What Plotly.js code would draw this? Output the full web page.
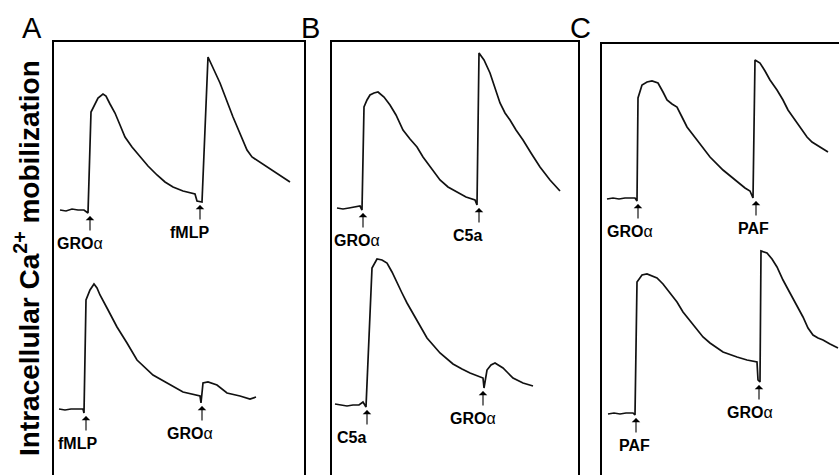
<!DOCTYPE html>
<html><head><meta charset="utf-8">
<script src="https://cdn.plot.ly/plotly-3.0.1.min.js"></script>
<style>html,body{margin:0;padding:0;background:#fff}#chart{width:839px;height:475px}</style>
</head><body><div id="chart"></div>
<script>
// ---- Data (time in s, fluorescence in arbitrary units) ----
// Panel A
const aTopT = [6,12,18,24,30,34,37,40,44,49,52,56,61,66,71,78,86,94,103,111,119,129,141,143,148,154,160,166,179,193,198,213,226,236];
const aTopF = [265,264,266,265,265,262,363,369,377,381,379,371,362,350,338,328,318,309,300,293,288,284,281,274,273,418,405,392,358,325,318,308,300,293];
const aBotT = [5,11,17,23,29,30,32,36,40,43,46,53,63,73,83,99,113,129,146,147,149,154,163,173,186,196,202];
const aBotF = [66,65,66,66,66,62,175,185,191,187,180,167,148,132,115,100,92,83,79,72,92,93,90,82,79,76,78];
const aStimLabel = ['GROα','fMLP','fMLP','GROα'];
const aStimT = [36,146,32,148];
const aStimRow = ['top','top','bottom','bottom'];
// Panel B
const bTopT = [5,11,17,23,28,30,32,35,38,42,46,52,58,64,71,78,85,91,98,108,116,125,134,143,145,147,152,158,163,168,173,178,184,191,199,208,218,228];
const bTopF = [267,266,267,268,269,265,368,375,380,382,383,378,370,360,345,336,328,318,308,295,288,283,278,275,270,422,415,402,388,372,362,355,345,335,322,308,295,284];
const bBotT = [3,9,15,21,27,31,34,40,45,50,55,60,65,70,75,85,95,108,121,130,138,151,152,155,159,163,171,176,181,191,201];
const bBotF = [71,70,69,70,70,73,68,207,216,215,212,203,192,182,172,155,137,122,111,106,102,97,87,105,110,112,107,102,97,92,89];
const bStimLabel = ['GROα','C5a','C5a','GROα'];
const bStimT = [31,147,35,151];
const bStimRow = ['top','top','bottom','bottom'];
// Panel C
const cTopT = [5,11,17,23,29,33,35,36,40,45,50,56,61,65,70,75,80,85,95,108,121,135,143,148,151,153,158,163,168,175,181,186,191,198,205,210,215,220,226];
const cTopF = [276,277,276,277,277,277,274,377,390,393,394,392,383,375,371,368,358,348,335,318,305,293,287,284,277,415,412,404,395,385,375,365,358,347,338,333,330,327,323];
const cBotT = [6,12,18,24,31,33,35,40,45,50,55,61,68,75,81,88,95,101,108,121,135,145,155,156,158,159,165,170,175,181,188,195,201,206,211,216,221,228,236];
const cBotF = [61,62,61,62,62,60,193,200,201,199,197,191,182,173,163,154,145,138,132,123,118,115,113,95,93,224,222,216,208,195,182,169,158,147,140,137,135,131,127];
const cStimLabel = ['GROα','PAF','PAF','GROα'];
const cStimT = [36,154,34,157];
const cStimRow = ['top','top','bottom','bottom'];

const panelLetters = ['A','B','C'];
const yTitle = '<b>Intracellular Ca<sup>2+</sup> mobilization</b>';

// ---- Layout / style (pixels) ----
const W = 839, H = 475;
const FONT = 'Liberation Sans, Arial, Helvetica, sans-serif';
const panelPx = [[54,304,42],[332,578,42],[602,839,44]]; // left, right, top
const labelShift = [[-10,-11,-9,-12],[-6,-12,-16,-10],[-8,-3,-2,-9]];
const ARROW_LEN = 16;

const panels = [
  {top:[aTopT,aTopF], bot:[aBotT,aBotF], lab:aStimLabel, st:aStimT, row:aStimRow},
  {top:[bTopT,bTopF], bot:[bBotT,bBotF], lab:bStimLabel, st:bStimT, row:bStimRow},
  {top:[cTopT,cTopF], bot:[cBotT,cBotF], lab:cStimLabel, st:cStimT, row:cStimRow}
];

const traces = [];
const annotations = [];
const layout = {
  width: W, height: H, margin:{l:0,r:0,t:0,b:0},
  paper_bgcolor:'#fff', plot_bgcolor:'rgba(0,0,0,0)',
  showlegend:false, font:{family:FONT, color:'#000'}
};

function labelHtml(s) {
  const g = s.indexOf('α');
  return g < 0 ? '<b>' + s + '</b>' : '<b>' + s.slice(0, g) + '</b>' + s.slice(g);
}

panels.forEach((p, i) => {
  const [L, R, T] = panelPx[i];
  const xs = i === 0 ? '' : String(i+1);
  const xName = 'xaxis' + xs, yName = 'yaxis' + xs;
  layout[xName] = {domain:[L/W, R/W], range:[0, R-L], side:'top', anchor:'y'+xs,
    showline:true, linecolor:'#000', linewidth:2, showticklabels:false, ticks:'',
    showgrid:false, zeroline:false, fixedrange:true};
  layout[yName] = {domain:[0, (H-T)/H], range:[0, H-T], anchor:'x'+xs,
    showline:true, mirror: i < 2, linecolor:'#000', linewidth:2, showticklabels:false,
    ticks:'', showgrid:false, zeroline:false, fixedrange:true};
  [p.top, p.bot].forEach(tr => {
    traces.push({x:tr[0], y:tr[1], xaxis:'x'+xs, yaxis:'y'+xs, type:'scatter', mode:'lines',
      line:{color:'#111', width:1.7}, hoverinfo:'skip'});
  });
  p.st.forEach((t, k) => {
    const tr = p.row[k] === 'top' ? p.top : p.bot;
    let m = Infinity;
    tr[0].forEach((tt, j) => { if (Math.abs(tt - t) <= 4) m = Math.min(m, tr[1][j]); });
    const tip = m - 3;
    annotations.push({xref:'x'+xs, yref:'y'+xs, x:t, y:tip, text:'', showarrow:true,
      ax:0, ay:ARROW_LEN, arrowhead:1, arrowsize:1.3, arrowwidth:1.1, arrowcolor:'#000', standoff:0});
    annotations.push({xref:'x'+xs, yref:'y'+xs, x:t, y:tip, text:labelHtml(p.lab[k]), showarrow:false,
      xanchor:'center', yanchor:'top', yshift:-(ARROW_LEN+1), xshift:labelShift[i][k],
      font:{family:FONT, size:16, color:'#000'}});
  });
  annotations.push({xref:'paper', yref:'paper', x:(L-22)/W, y:(H-28)/H, text:panelLetters[i],
    showarrow:false, xanchor:'center', yanchor:'middle', font:{family:FONT, size:29, color:'#000'}});
});

annotations.push({xref:'paper', yref:'paper', x:27/W, y:(H-258)/H, text:yTitle, textangle:-90,
  showarrow:false, xanchor:'center', yanchor:'middle', font:{family:FONT, size:28, color:'#000'}});

layout.annotations = annotations;
Plotly.newPlot('chart', traces, layout, {displayModeBar:false, staticPlot:true});
</script></body></html>
